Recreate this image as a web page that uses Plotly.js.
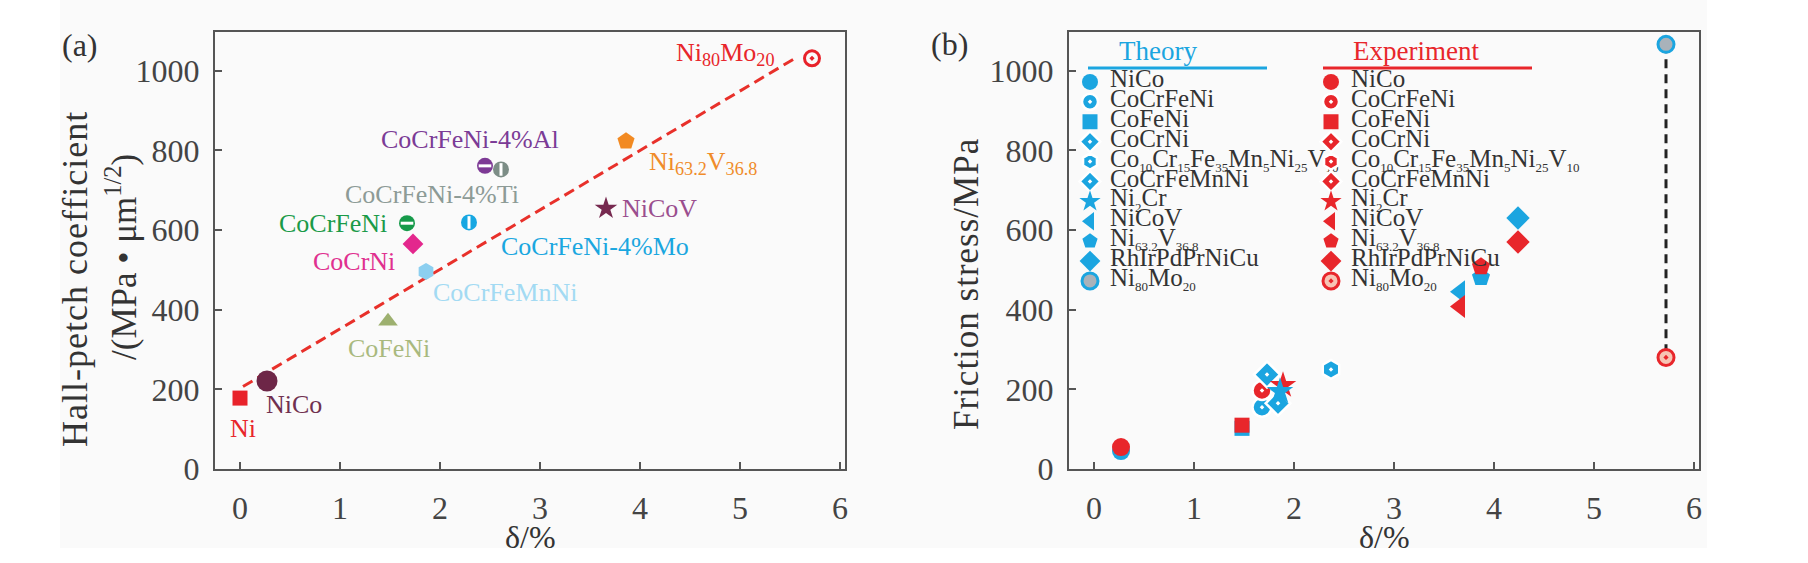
<!DOCTYPE html>
<html>
<head>
<meta charset="utf-8">
<script src="https://cdn.plot.ly/plotly-3.0.1.min.js"></script>
<style>
html,body{margin:0;padding:0;background:#ffffff;}
#chart{width:1808px;height:563px;}
</style>
</head>
<body>
<div id="chart"></div>
<script>
// ---------------- DATA : panel (a) Hall-Petch coefficient vs lattice distortion ----------------
const alloysA = ['Ni','NiCo','CoFeNi','CoCrNi','CoCrFeNi','CoCrFeNi-4%Mo','CoCrFeMnNi',
                 'CoCrFeNi-4%Al','CoCrFeNi-4%Ti','NiCoV','Ni63.2V36.8','Ni80Mo20'];
const labelsA = ['Ni','NiCo','CoFeNi','CoCrNi','CoCrFeNi','CoCrFeNi-4%Mo','CoCrFeMnNi',
                 'CoCrFeNi-4%Al','CoCrFeNi-4%Ti','NiCoV','Ni<sub>63.2</sub>V<sub>36.8</sub>','Ni<sub>80</sub>Mo<sub>20</sub>'];
const deltaA     = [0, 0.27, 1.48, 1.73, 1.67, 2.29, 1.86, 2.45, 2.61, 3.66, 3.86, 5.72];
const hallPetchA = [178, 221, 371, 565, 617, 619, 496, 761, 752, 654, 823, 1031];
const fitDeltaA     = [0.03, 5.57];
const fitHallPetchA = [207, 1034];

// ---------------- DATA : panel (b) friction stress, theory vs experiment ----------------
const alloysB = ['NiCo','CoCrFeNi','CoFeNi','CoCrNi','Co10Cr15Fe35Mn5Ni25V10','CoCrFeMnNi',
                 'Ni2Cr','NiCoV','Ni63.2V36.8','RhIrPdPrNiCu','Ni80Mo20'];
const legendLabelsB = ['NiCo','CoCrFeNi','CoFeNi','CoCrNi',
  'Co<sub>10</sub>Cr<sub>15</sub>Fe<sub>35</sub>Mn<sub>5</sub>Ni<sub>25</sub>V<sub>10</sub>',
  'CoCrFeMnNi','Ni<sub>2</sub>Cr','NiCoV','Ni<sub>63.2</sub>V<sub>36.8</sub>','RhIrPdPrNiCu',
  'Ni<sub>80</sub>Mo<sub>20</sub>'];
const deltaTheoryB    = [0.27, 1.68, 1.48, 1.73, 2.37, 1.84, 1.86, 3.66, 3.87, 4.24, 5.72];
const frictionTheoryB = [45, 155, 102, 237, 250, 165, 195, 445, 481, 630, 1066];
const deltaExpB       = [0.27, 1.68, 1.48, null, null, null, 1.89, 3.66, 3.87, 4.24, 5.72];
const frictionExpB    = [55, 197, 110, null, null, null, 210, 408, 508, 570, 280];

const tickValsX = [0, 1, 2, 3, 4, 5, 6];
const tickValsY = [0, 200, 400, 600, 800, 1000];

// ---------------- STYLE ----------------
const W = 1808, H = 563;
const SERIF = '"Liberation Serif", "Times New Roman", Times, serif';
const CYAN = '#1ba5e0', RED = '#e8262b', AXIS = '#555555', TXT = '#333333';

const markStyleA = {
  'Ni':            {symbol:'square',          size:15, color:'#e8222a'},
  'NiCo':          {symbol:'circle',          size:21, color:'#6d2647'},
  'CoFeNi':        {symbol:'triangle-up',     size:17, color:'#9db06f'},
  'CoCrNi':        {symbol:'diamond',         size:16, color:'#e3278d'},
  'CoCrFeNi':      {symbol:'circle',          size:16, color:'#169a4a', bar:'line-ew'},
  'CoCrFeNi-4%Mo': {symbol:'circle',          size:16, color:'#17a7e2', bar:'line-ns'},
  'CoCrFeMnNi':    {symbol:'hexagon',         size:17, color:'#8ccff0'},
  'CoCrFeNi-4%Al': {symbol:'circle',          size:16, color:'#7d3a95', bar:'line-ew'},
  'CoCrFeNi-4%Ti': {symbol:'circle',          size:16, color:'#7c8d86', bar:'line-ns'},
  'NiCoV':         {symbol:'star',            size:17, color:'#76294f'},
  'Ni63.2V36.8':   {symbol:'pentagon',        size:18, color:'#f28a22'},
  'Ni80Mo20':      {symbol:'circle-open-dot', size:15, color:'#e8222a', lw:3}
};
const labelStyleA = {
  'Ni':            {color:'#e8262b', xshift:3,    yshift:-30, xanchor:'center'},
  'NiCo':          {color:'#70304f', xshift:27,   yshift:-24, xanchor:'center'},
  'CoFeNi':        {color:'#a9b97e', xshift:1,    yshift:-27, xanchor:'center'},
  'CoCrNi':        {color:'#e0308f', xshift:-59,  yshift:-18, xanchor:'center'},
  'CoCrFeNi':      {color:'#1a9a48', xshift:-18,  yshift:0,   xanchor:'right'},
  'CoCrFeNi-4%Mo': {color:'#1aa7e0', xshift:126,  yshift:-24, xanchor:'center'},
  'CoCrFeMnNi':    {color:'#a3daf3', xshift:79,   yshift:-21, xanchor:'center'},
  'CoCrFeNi-4%Al': {color:'#7b3b96', xshift:-15,  yshift:26,  xanchor:'center'},
  'CoCrFeNi-4%Ti': {color:'#8d9b96', xshift:-69,  yshift:-25, xanchor:'center'},
  'NiCoV':         {color:'#9a4e8e', xshift:14,   yshift:0,   xanchor:'left'},
  'Ni63.2V36.8':   {color:'#f08c2a', xshift:21,   yshift:-22, xanchor:'left'},
  'Ni80Mo20':      {color:'#e8262b', xshift:-35,  yshift:4,   xanchor:'right'}
};
const symB  = ['circle','circle-dot','square','diamond-dot','hexagon-dot','diamond-dot',
               'star','triangle-left','pentagon','diamond','circle'];
const sizeB = [18, 19, 15, 20, 19, 19, 20, 20, 19, 18, 16];
// materials whose experiment marker lies underneath the theory marker
const expBelowB = ['Ni2Cr'];

// ---------------- TRACES ----------------
const traces = [];

// panel (a): fit line
traces.push({
  type:'scatter', mode:'lines', x:fitDeltaA, y:fitHallPetchA, xaxis:'x', yaxis:'y',
  line:{color:'#e8302a', width:3, dash:'11px,6px'}, showlegend:false, hoverinfo:'skip'
});
// panel (a): points
traces.push({
  type:'scatter', mode:'markers', x:deltaA, y:hallPetchA, xaxis:'x', yaxis:'y',
  text:alloysA, showlegend:false, cliponaxis:false,
  marker:{
    opacity:1,
    symbol: alloysA.map(a => markStyleA[a].symbol),
    size:   alloysA.map(a => markStyleA[a].size),
    color:  alloysA.map(a => markStyleA[a].color),
    line:{ width: alloysA.map(a => markStyleA[a].lw || 0),
           color: alloysA.map(a => markStyleA[a].color) }
  }
});
// panel (a): white bars inside half-filled markers
traces.push({
  type:'scatter', mode:'markers', x:deltaA, y:hallPetchA, xaxis:'x', yaxis:'y',
  showlegend:false, hoverinfo:'skip', cliponaxis:false,
  marker:{
    opacity:1,
    symbol: alloysA.map(a => markStyleA[a].bar || 'line-ew'),
    size: 9, color:'rgba(0,0,0,0)',
    line:{ width:3, color: alloysA.map(a => markStyleA[a].bar ? '#ffffff' : 'rgba(0,0,0,0)') }
  }
});

// panel (b): dashed connector for Ni80Mo20 (theory -> experiment)
const iMo = alloysB.indexOf('Ni80Mo20');
traces.push({
  type:'scatter', mode:'lines', xaxis:'x2', yaxis:'y2',
  x:[deltaTheoryB[iMo], deltaExpB[iMo]], y:[frictionTheoryB[iMo], frictionExpB[iMo]],
  line:{color:'#222222', width:3, dash:'9px,6px'}, showlegend:false, hoverinfo:'skip'
});

function markerB(i, color, isExp) {
  const s = symB[i];
  if (alloysB[i] === 'Ni80Mo20') {
    return isExp
      ? {symbol:'circle-dot', size:sizeB[i], opacity:1, color:'#f7c4b4', line:{color:color, width:3}}
      : {symbol:'circle', size:sizeB[i], opacity:1, color:'#a9b2ba', line:{color:color, width:3}};
  }
  if (s.endsWith('-dot')) {
    return {symbol:s, size:sizeB[i], opacity:1, color:color, line:{color:'#ffffff', width:2.5}};
  }
  return {symbol:s, size:sizeB[i], opacity:1, color:color, line:{width:0}};
}
const legendName = t => '<span style="font-size:25px">' +
  t.replace(/<sub>(.*?)<\/sub>/g, '<sub><span style="font-size:13px">$1</span></sub>') + '</span>';

alloysB.forEach((a, i) => {
  const th = {
    type:'scatter', mode:'markers', xaxis:'x2', yaxis:'y2', legend:'legend',
    x:[deltaTheoryB[i]], y:[frictionTheoryB[i]], name:legendName(legendLabelsB[i]),
    marker:markerB(i, CYAN, false), cliponaxis:false
  };
  const ex = {
    type:'scatter', mode:'markers', xaxis:'x2', yaxis:'y2', legend:'legend2',
    x:[deltaExpB[i]], y:[frictionExpB[i]], name:legendName(legendLabelsB[i]),
    marker:markerB(i, RED, true), cliponaxis:false
  };
  if (expBelowB.includes(a)) { traces.push(ex, th); } else { traces.push(th, ex); }
});

// ---------------- LAYOUT ----------------
const px = v => v / W;
const py = v => 1 - v / H;

function xAxis(dom, anchor) {
  return {
    domain:dom, anchor:anchor, range:[-0.25, 6.05], tickvals:tickValsX,
    showline:true, linecolor:AXIS, linewidth:2, mirror:true,
    ticks:'inside', ticklen:7, tickwidth:2, tickcolor:AXIS,
    tickfont:{family:SERIF, size:32, color:'#444'}, ticklabelstandoff:10,
    showgrid:false, zeroline:false, fixedrange:true
  };
}
function yAxis(anchor) {
  return {
    domain:[py(469), py(32)], anchor:anchor, range:[0, 1097], tickvals:tickValsY,
    showline:true, linecolor:AXIS, linewidth:2, mirror:true,
    ticks:'inside', ticklen:7, tickwidth:2, tickcolor:AXIS,
    tickfont:{family:SERIF, size:32, color:'#444'}, ticklabelstandoff:7,
    showgrid:false, zeroline:false, fixedrange:true
  };
}

const annotations = [];
alloysA.forEach((a, i) => {
  const st = labelStyleA[a];
  annotations.push({
    xref:'x', yref:'y', x:deltaA[i], y:hallPetchA[i], text:labelsA[i], showarrow:false,
    xshift:st.xshift, yshift:st.yshift, xanchor:st.xanchor, yanchor:'middle',
    font:{family:SERIF, size:26, color:st.color}
  });
});
const paperText = (x, y, text, size, color, angle) => ({
  xref:'paper', yref:'paper', x:px(x), y:py(y), text:text, showarrow:false,
  xanchor:'center', yanchor:'middle', textangle:angle || 0,
  font:{family:SERIF, size:size, color:color}
});
annotations.push(paperText(80, 45, '(a)', 32, TXT));
annotations.push(paperText(949, 44, '(b)', 32, TXT));
annotations.push(paperText(75, 279, '<span style="letter-spacing:1px">Hall-petch coefficient</span>', 36, TXT, -90));
annotations.push(paperText(121, 257, '/(MPa • μm<sup>1/2</sup>)', 35, TXT, -90));
annotations.push(paperText(966, 284, '<span style="letter-spacing:1px">Friction stress/MPa</span>', 35, TXT, -90));
annotations.push(paperText(530, 537, 'δ/%', 32, TXT));
annotations.push(paperText(1384, 537, 'δ/%', 32, TXT));
annotations.push(paperText(1158, 51, 'Theory', 27, CYAN));
annotations.push(paperText(1416, 51, 'Experiment', 27, RED));

const shapes = [
  {type:'rect', xref:'paper', yref:'paper', x0:px(60), x1:px(1707), y0:py(548), y1:1,
   fillcolor:'#fafafa', line:{width:0}, layer:'below'},
  {type:'line', xref:'paper', yref:'paper', x0:px(1088), x1:px(1267), y0:py(68), y1:py(68),
   line:{color:CYAN, width:3}},
  {type:'line', xref:'paper', yref:'paper', x0:px(1323), x1:px(1532), y0:py(68), y1:py(68),
   line:{color:RED, width:3}}
];

const legendBase = {
  xanchor:'left', yanchor:'top', y:py(67), bgcolor:'rgba(0,0,0,0)', borderwidth:0,
  font:{family:SERIF, size:13, color:TXT}, itemwidth:30, tracegroupgap:0,
  itemclick:false, itemdoubleclick:false
};

const layout = {
  width:W, height:H, margin:{l:0, r:0, t:0, b:0, pad:0},
  paper_bgcolor:'#ffffff', plot_bgcolor:'rgba(0,0,0,0)',
  showlegend:true,
  xaxis: xAxis([px(215), px(845)], 'y'),
  yaxis: yAxis('x'),
  xaxis2: xAxis([px(1069), px(1699)], 'y2'),
  yaxis2: yAxis('x2'),
  legend: Object.assign({}, legendBase, {x:px(1070)}),
  legend2: Object.assign({}, legendBase, {x:px(1311)}),
  annotations: annotations,
  shapes: shapes,
  hovermode:false
};

Plotly.newPlot('chart', traces, layout, {displayModeBar:false, staticPlot:true});
</script>
</body>
</html>
